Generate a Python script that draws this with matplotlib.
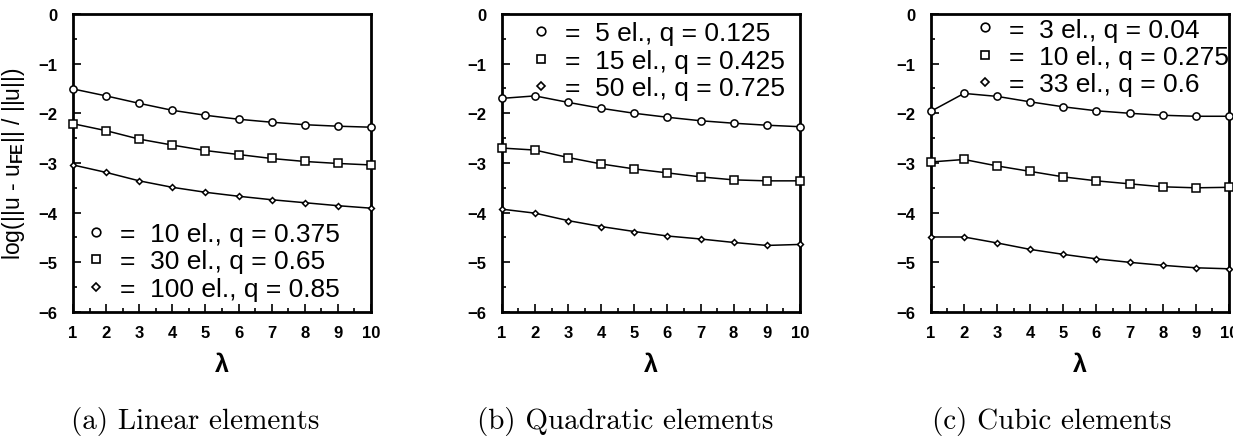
import matplotlib
matplotlib.use("Agg")
import matplotlib.pyplot as plt
from matplotlib.lines import Line2D
from matplotlib.ticker import MultipleLocator

plt.rcParams['font.family'] = 'Liberation Sans'
plt.rcParams['font.weight'] = 'bold'
plt.rcParams['mathtext.fontset'] = 'custom'
plt.rcParams['mathtext.bf'] = 'Liberation Sans:bold'
plt.rcParams['mathtext.rm'] = 'Liberation Sans:bold'

lam = [1, 2, 3, 4, 5, 6, 7, 8, 9, 10]

# (a) linear elements
lin_10 = [-1.51, -1.65, -1.80, -1.94, -2.04, -2.12, -2.18, -2.23, -2.26, -2.28]
lin_30 = [-2.21, -2.35, -2.52, -2.64, -2.75, -2.83, -2.91, -2.97, -3.01, -3.04]
lin_100 = [-3.04, -3.19, -3.36, -3.49, -3.59, -3.67, -3.74, -3.80, -3.86, -3.91]
lin_labels = ['=  10 el., q = 0.375', '=  30 el., q = 0.65', '=  100 el., q = 0.85']

# (b) quadratic elements
quad_5 = [-1.70, -1.65, -1.78, -1.90, -2.00, -2.08, -2.15, -2.20, -2.24, -2.27]
quad_15 = [-2.70, -2.74, -2.89, -3.02, -3.12, -3.20, -3.28, -3.34, -3.36, -3.36]
quad_50 = [-3.93, -4.01, -4.16, -4.28, -4.38, -4.47, -4.53, -4.60, -4.66, -4.64]
quad_labels = ['=  5 el., q = 0.125', '=  15 el., q = 0.425', '=  50 el., q = 0.725']

# (c) cubic elements
cub_3 = [-1.96, -1.60, -1.66, -1.77, -1.87, -1.95, -2.00, -2.04, -2.06, -2.06]
cub_10 = [-2.98, -2.93, -3.06, -3.17, -3.28, -3.36, -3.42, -3.48, -3.50, -3.49]
cub_33 = [-4.49, -4.49, -4.61, -4.74, -4.84, -4.93, -5.00, -5.06, -5.11, -5.13]
cub_labels = ['=  3 el., q = 0.04', '=  10 el., q = 0.275', '=  33 el., q = 0.6']

captions = ['(a) Linear elements', '(b) Quadratic elements', '(c) Cubic elements']

panels = [
    ([lin_10, lin_30, lin_100], lin_labels),
    ([quad_5, quad_15, quad_50], quad_labels),
    ([cub_3, cub_10, cub_33], cub_labels),
]

markers = [('o', 5.2), ('s', 5.2), ('D', 3.0)]
leg_markers = [('o', 6.2), ('s', 6.0), ('D', 3.6)]
lefts = [0.0592, 0.407, 0.755]
leg_pos = [(0.042, 0.302), (0.096, 0.975), (0.146, 0.988)]
cap_x = [195, 625, 1052]

fig = plt.figure(figsize=(12.33, 4.39), dpi=100)

for i, (series, labels) in enumerate(panels):
    ax = fig.add_axes([lefts[i], 0.287, 0.2417, 0.679])
    for ys, (m, ms) in zip(series, markers):
        ax.plot(lam, ys, color='black', lw=1.1, marker=m, ms=ms,
                mfc='white', mec='black', mew=1.1, clip_on=False, zorder=3)
    ax.set_xlim(1, 10)
    ax.set_ylim(-6, 0)
    ax.xaxis.set_major_locator(MultipleLocator(1))
    ax.xaxis.set_minor_locator(MultipleLocator(0.5))
    ax.yaxis.set_major_locator(MultipleLocator(1))
    ax.yaxis.set_minor_locator(MultipleLocator(0.5))
    ax.tick_params(which='both', direction='in', top=False, right=False,
                   labelsize=12, width=1.2)
    ax.tick_params(which='major', length=6)
    ax.tick_params(which='minor', length=3)
    ax.tick_params(axis='x', pad=9)
    ax.tick_params(axis='y', pad=11)
    for s in ax.spines.values():
        s.set_linewidth(2)
    ax.set_xlabel('λ', fontsize=18, fontweight='bold')
    ax.xaxis.set_label_coords(0.5, -0.135)
    if i == 0:
        ax.set_ylabel(r'log(||u - u$_{\mathbf{FE}}$|| / ||u||)', fontsize=16.5)
        ax.yaxis.set_label_coords(-0.155, 0.5)
    handles = [Line2D([], [], ls='none', marker=m, ms=ms, mfc='white',
                      mec='black', mew=1.2) for m, ms in leg_markers]
    ax.legend(handles, labels, loc='upper left', bbox_to_anchor=leg_pos[i],
              frameon=False, handlelength=0.8, handletextpad=0.5,
              labelspacing=0.13, borderpad=0, borderaxespad=0,
              prop={'family': 'Liberation Sans', 'weight': 'normal', 'size': 19})
    fig.text(cap_x[i] / 1233, 0.04, captions[i], family='cmr10',
             fontsize=21, weight='normal', ha='center', va='center')

fig.savefig('out.png', dpi=100)
